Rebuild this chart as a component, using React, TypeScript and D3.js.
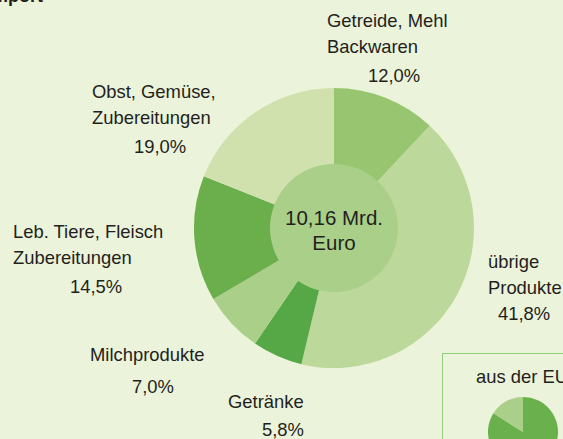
import React from "react";
import * as d3 from "d3";

const categories = ["Getreide, Mehl Backwaren", "übrige Produkte", "Getränke", "Milchprodukte", "Leb. Tiere, Fleisch Zubereitungen", "Obst, Gemüse, Zubereitungen"];
const values = [12.0, 41.8, 5.8, 7.0, 14.5, 19.0];
const colors = ["#98c56f", "#bdd89b", "#56a846", "#a9cf88", "#6aaf4b", "#d0e1ae"];
const labelLines = [
  ["Getreide, Mehl", "Backwaren"],
  ["übrige", "Produkte"],
  ["Getränke"],
  ["Milchprodukte"],
  ["Leb. Tiere, Fleisch", "Zubereitungen"],
  ["Obst, Gemüse,", "Zubereitungen"],
];
const percentLabels = ["12,0%", "41,8%", "5,8%", "7,0%", "14,5%", "19,0%"];
const centerLines = ["10,16 Mrd.", "Euro"];
const euValues = [84, 16];
const euColors = ["#6ab04c", "#a9cf88"];

const labelPos = [
  { x: 327, y: 27, pctX: 368, pctY: 82 },
  { x: 488, y: 268, pctX: 498, pctY: 320 },
  { x: 228, y: 408, pctX: 262, pctY: 436 },
  { x: 90, y: 361, pctX: 132, pctY: 393 },
  { x: 13, y: 238, pctX: 70, pctY: 293 },
  { x: 92, y: 98, pctX: 134, pctY: 153 },
];

export default function App() {
  const W = 563, H = 439;
  const cx = 334, cy = 228, R = 140, r0 = 64;
  const pie = d3.pie<number>().sort(null).value((d) => d).startAngle(0).endAngle(2 * Math.PI);
  const arcs = pie(values);
  const arc = d3.arc<d3.PieArcDatum<number>>().innerRadius(0).outerRadius(R);
  const euPie = d3.pie<number>().sort(null).value((d) => d)(euValues);
  const euArc = d3.arc<d3.PieArcDatum<number>>().innerRadius(0).outerRadius(35);
  const font = "'Liberation Sans', Arial, sans-serif";
  const txt = "#231f20";
  return (
    <div style={{ position: "fixed", left: 0, top: 0, width: W, height: H }}>
      <svg width={W} height={H} style={{ display: "block" }} fontFamily={font}>
        <rect x={0} y={0} width={W} height={H} fill="#ebf3da" />
        <text x={43} y={2} textAnchor="end" fontWeight="bold" fontSize={18} fill={txt}>Import</text>
        <g transform={`translate(${cx},${cy})`}>
          {arcs.map((a, i) => (
            <path key={i} d={arc(a) || ""} fill={colors[i]} />
          ))}
          <circle r={r0} fill="#a9cf88" />
          {centerLines.map((t, i) => (
            <text key={i} x={0} y={-3 + i * 25} textAnchor="middle" fontSize={20.5} fill={txt}>{t}</text>
          ))}
        </g>
        {labelLines.map((lines, i) => (
          <g key={i}>
            {lines.map((t, j) => (
              <text key={j} x={labelPos[i].x} y={labelPos[i].y + j * 25.5} fontSize={18.4} fill={txt}>{t}</text>
            ))}
            <text x={labelPos[i].pctX} y={labelPos[i].pctY} fontSize={18.4} fill={txt}>{percentLabels[i]}</text>
          </g>
        ))}
        <rect x={442.5} y={353.5} width={140} height={100} fill="#ebf3da" stroke="#90d07a" strokeWidth={1} />
        <text x={476} y={383} fontSize={18.4} fill={txt}>aus der EU</text>
        <g transform="translate(523,432)">
          {euPie.map((a, i) => (
            <path key={i} d={euArc(a) || ""} fill={euColors[i]} />
          ))}
        </g>
      </svg>
    </div>
  );
}
